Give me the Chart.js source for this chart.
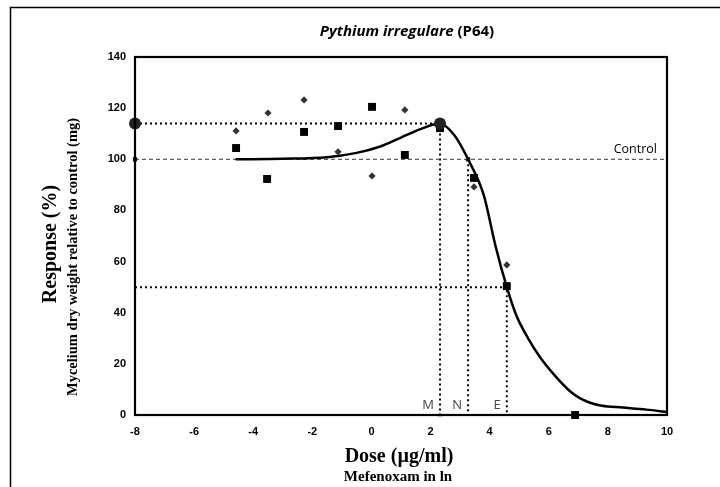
<!DOCTYPE html>
<html>
<head>
<meta charset="utf-8">
<script src="https://cdn.jsdelivr.net/npm/chart.js@4/dist/chart.umd.min.js"></script>
<style>
  html, body { margin: 0; padding: 0; background: #fff; }
  #wrap { width: 720px; height: 487px; position: relative; }
</style>
</head>
<body>
<div id="wrap"><canvas id="c" width="720" height="487"></canvas></div>
<script>
// ---- Data ----
const squareX = [-4.58, -3.53, -2.28, -1.13, 0.02, 1.13, 2.32, 3.47, 4.58, 6.89];
const squareY = [104.4, 92.3, 110.7, 113.0, 120.5, 101.7, 112.2, 92.7, 50.4, 0];
const diamondX = [-4.58, -3.50, -2.28, -1.13, 0.02, 1.13, 3.47, 4.58];
const diamondY = [111.1, 118.1, 123.2, 102.9, 93.5, 119.3, 89.2, 58.7];
const curveX = [-4.6, -3.0, -1.5, -0.5, 0.3, 1.0, 1.7, 2.3, 2.8, 3.27, 3.8, 4.2, 4.58, 4.9, 5.3, 5.7, 6.2, 6.7, 7.05, 7.4, 7.8, 8.5, 9.3, 10];
const curveY = [100, 100.2, 100.8, 102.5, 105, 108.5, 112, 114, 109.5, 100, 86, 66, 50, 39, 30, 22.7, 15.5, 9.5, 6.6, 4.8, 3.6, 2.9, 2.1, 1.2];
const xTicks = [-8, -6, -4, -2, 0, 2, 4, 6, 8, 10];
const yTicks = [0, 20, 40, 60, 80, 100, 120, 140];
const markLabels = ['M', 'N', 'E'];
const markX = [2.32, 3.27, 4.58];      // dose at max response, N point, EC50
const markY = [114, 100, 50];           // response level at each mark
const controlY = 100;

const pts = (xs, ys) => xs.map((x, i) => ({ x, y: ys[i] }));

const decorPlugin = {
  id: 'decor',
  afterDraw(chart) {
    const ctx = chart.ctx;
    const a = chart.chartArea;
    const xs = chart.scales.x, ys = chart.scales.y;
    ctx.save();
    // outer frame
    ctx.strokeStyle = '#000';
    ctx.lineWidth = 1.5;
    ctx.beginPath();
    ctx.moveTo(10.5, 487);
    ctx.lineTo(10.5, 7.5);
    ctx.lineTo(720, 7.5);
    ctx.stroke();
    // plot box
    ctx.lineWidth = 2.2;
    ctx.strokeRect(a.left, a.top, a.right - a.left, a.bottom - a.top);

    // title
    const f1 = 'italic bold 15px "Open Sans", sans-serif';
    const f2 = 'bold 15px "Open Sans", sans-serif';
    const t1 = 'Pythium irregulare', t2 = ' (P64)';
    ctx.font = f1; const w1 = ctx.measureText(t1).width;
    ctx.font = f2; const w2 = ctx.measureText(t2).width;
    let tx = 407 - (w1 + w2) / 2;
    ctx.fillStyle = '#000';
    ctx.textBaseline = 'alphabetic';
    ctx.textAlign = 'left';
    ctx.font = f1; ctx.fillText(t1, tx, 36);
    ctx.font = f2; ctx.fillText(t2, tx + w1, 36);

    // axis titles
    ctx.textAlign = 'center';
    ctx.font = 'bold 20px "Liberation Serif", serif';
    ctx.fillText('Dose (\u00b5g/ml)', 399, 462);
    ctx.font = 'bold 15px "Liberation Serif", serif';
    ctx.fillText('Mefenoxam in ln', 398, 481);

    ctx.save();
    ctx.translate(56, 244);
    ctx.rotate(-Math.PI / 2);
    ctx.font = 'bold 20px "Liberation Serif", serif';
    ctx.fillText('Response (%)', 0, 0);
    ctx.restore();
    ctx.save();
    ctx.translate(77, 257);
    ctx.rotate(-Math.PI / 2);
    ctx.font = 'bold 14.5px "Liberation Serif", serif';
    ctx.fillText('Mycelium dry weight relative to control (mg)', 0, 0);
    ctx.restore();

    // Control label
    ctx.textAlign = 'right';
    ctx.font = '12.5px "Open Sans", sans-serif';
    ctx.fillStyle = '#000';
    ctx.fillText('Control', 657, ys.getPixelForValue(controlY) - 6);

    // M N E labels
    ctx.font = '13px "Open Sans", sans-serif';
    ctx.fillStyle = '#444';
    markLabels.forEach((l, i) => {
      ctx.fillText(l, xs.getPixelForValue(markX[i]) - 6, a.bottom - 6);
    });
    ctx.restore();
  }
};

const xMin = xTicks[0], xMax = xTicks[xTicks.length - 1];

new Chart(document.getElementById('c'), {
  type: 'scatter',
  data: {
    datasets: [
      { // squares
        data: pts(squareX, squareY), pointStyle: 'rect', pointRadius: 5.6,
        backgroundColor: '#000', borderColor: '#000', borderWidth: 0, order: 1
      },
      { // diamonds
        data: pts(diamondX, diamondY), pointStyle: 'rectRot', pointRadius: 3.6,
        backgroundColor: '#333', borderColor: '#333', borderWidth: 0, order: 2
      },
      { // key markers: max response
        data: [{ x: xMin, y: markY[0] }, { x: markX[0], y: markY[0] }], pointStyle: 'circle', pointRadius: 6,
        backgroundColor: '#222', borderColor: '#222', borderWidth: 0, order: 0
      },
      { // control markers
        data: [{ x: xMin, y: controlY }, { x: markX[1], y: controlY }], pointStyle: 'rect', pointRadius: 3,
        backgroundColor: '#111', borderColor: '#111', borderWidth: 0, order: 0
      },
      { // M marker on axis
        data: [{ x: markX[0], y: 0 }], pointStyle: 'triangle', pointRadius: 3,
        backgroundColor: '#999', borderColor: '#999', borderWidth: 0, order: 0
      },
      { // fitted curve
        data: pts(curveX, curveY), showLine: true, pointRadius: 0,
        borderColor: '#000', borderWidth: 2.5, cubicInterpolationMode: 'monotone', order: 5
      },
      { // control line
        data: [{ x: xMin, y: controlY }, { x: xMax, y: controlY }], showLine: true, pointRadius: 0,
        borderColor: '#333', borderWidth: 1, borderDash: [4, 3], order: 6
      },
      { // max response dotted lines
        data: [{ x: xMin, y: markY[0] }, { x: markX[0], y: markY[0] }, { x: markX[0], y: 0 }], showLine: true, pointRadius: 0,
        borderColor: '#000', borderWidth: 2, borderDash: [2, 3], order: 6
      },
      { // N vertical
        data: [{ x: markX[1], y: markY[1] }, { x: markX[1], y: 0 }], showLine: true, pointRadius: 0,
        borderColor: '#000', borderWidth: 2, borderDash: [2, 3], order: 6
      },
      { // EC50 lines
        data: [{ x: xMin, y: markY[2] }, { x: markX[2], y: markY[2] }, { x: markX[2], y: 0 }], showLine: true, pointRadius: 0,
        borderColor: '#000', borderWidth: 2, borderDash: [2, 3], order: 6
      }
    ]
  },
  options: {
    responsive: false,
    animation: false,
    clip: false,
    layout: { padding: { left: 0, top: 57, right: 53, bottom: 0 } },
    plugins: { legend: { display: false }, tooltip: { enabled: false }, title: { display: false } },
    scales: {
      x: {
        type: 'linear', min: xMin, max: xMax,
        afterBuildTicks: s => { s.ticks = xTicks.map(v => ({ value: v })); },
        afterFit: s => { s.height = 72; },
        grid: { display: false, drawTicks: false },
        border: { display: false },
        ticks: { padding: 10, color: '#000', font: { family: '"Liberation Sans", sans-serif', weight: 'bold', size: 11 } }
      },
      y: {
        type: 'linear', min: yTicks[0], max: yTicks[yTicks.length - 1],
        afterBuildTicks: s => { s.ticks = yTicks.map(v => ({ value: v })); },
        afterFit: s => { s.width = 135; },
        grid: { display: false, drawTicks: false },
        border: { display: false },
        ticks: { padding: 9, color: '#000', font: { family: '"Liberation Sans", sans-serif', weight: 'bold', size: 11 } }
      }
    }
  },
  plugins: [decorPlugin]
});
</script>
</body>
</html>
